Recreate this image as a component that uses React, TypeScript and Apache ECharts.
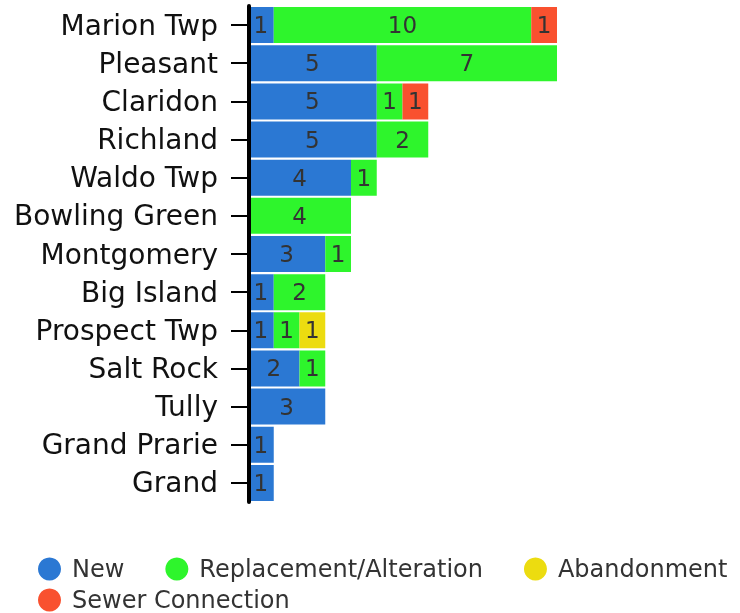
import React, { useEffect, useRef } from "react";
import * as echarts from "echarts";

const categories = [
  "Marion Twp",
  "Pleasant",
  "Claridon",
  "Richland",
  "Waldo Twp",
  "Bowling Green",
  "Montgomery",
  "Big Island",
  "Prospect Twp",
  "Salt Rock",
  "Tully",
  "Grand Prarie",
  "Grand",
];
const newVals = [1, 5, 5, 5, 4, 0, 3, 1, 1, 2, 3, 1, 1];
const replVals = [10, 7, 1, 2, 1, 4, 1, 2, 1, 1, 0, 0, 0];
const abanVals = [0, 0, 0, 0, 0, 0, 0, 0, 1, 0, 0, 0, 0];
const sewerVals = [1, 0, 1, 0, 0, 0, 0, 0, 0, 0, 0, 0, 0];
const seriesNames = ["New", "Replacement/Alteration", "Abandonment", "Sewer Connection"];
const colors = ["#2b78d3", "#2ef52c", "#ecdc10", "#f9512f"];

const FONT = "DejaVu Sans";

export default function App() {
  const ref = useRef<HTMLDivElement>(null);
  useEffect(() => {
    if (!ref.current) return;
    const chart = echarts.init(ref.current, null, { renderer: "svg" });
    const valueSets = [newVals, replVals, abanVals, sewerVals];
    const legendText = { fontFamily: FONT, fontSize: 24, lineHeight: 23, color: "#333", padding: [0, 0, 0, 6] };
    chart.setOption({
      animation: false,
      color: colors,
      grid: { left: 248, top: 6, width: 309, height: 496, containLabel: false },
      xAxis: { type: "value", min: 0, max: 12, show: false },
      yAxis: {
        type: "category",
        data: categories,
        inverse: true,
        offset: -1,
        z: 10,
        axisLine: { show: true, lineStyle: { color: "#000", width: 4 } },
        axisTick: { show: true, length: 18, alignWithLabel: true, lineStyle: { color: "#000", width: 2 } },
        axisLabel: { fontFamily: FONT, fontSize: 28, color: "#111", margin: 31 },
        splitLine: { show: false },
      },
      legend: [
        {
          left: 38,
          top: 557,
          icon: "circle",
          itemWidth: 23,
          itemHeight: 23,
          itemGap: 41,
          padding: 0,
          data: seriesNames.slice(0, 3),
          textStyle: legendText,
        },
        {
          left: 38,
          top: 588,
          icon: "circle",
          itemWidth: 23,
          itemHeight: 23,
          itemGap: 41,
          padding: 0,
          data: seriesNames.slice(3),
          textStyle: legendText,
        },
      ],
      series: seriesNames.map((name, i) => ({
        name,
        type: "bar",
        stack: "total",
        barCategoryGap: "5.6%",
        data: valueSets[i].map((v) => (v > 0 ? v : null)),
        label: {
          show: true,
          position: "inside",
          fontFamily: FONT,
          fontSize: 23,
          color: "#333",
          formatter: (p: any) => (p.value ? String(p.value) : ""),
        },
      })),
    });
    return () => chart.dispose();
  }, []);
  return <div ref={ref} style={{ position: "fixed", left: 0, top: 0, width: 740, height: 613 }} />;
}
